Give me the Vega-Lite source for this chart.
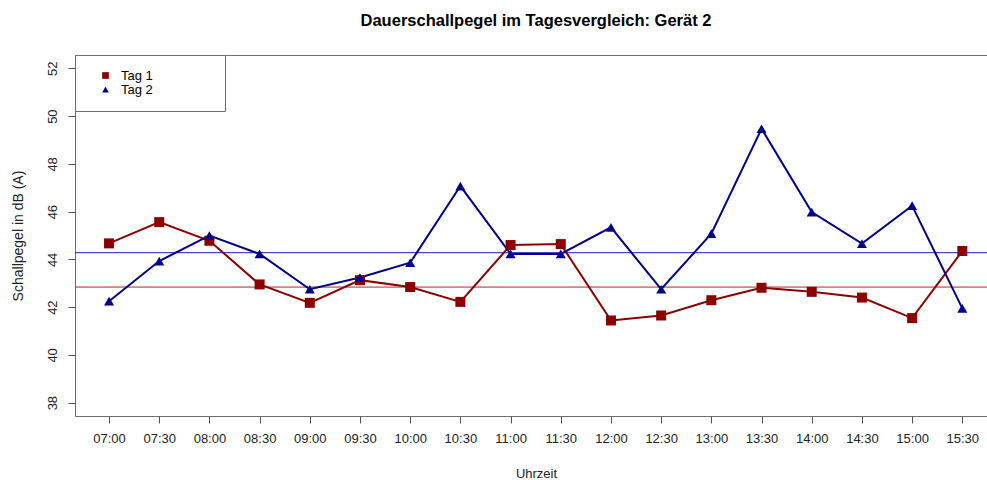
{
  "$schema": "https://vega.github.io/schema/vega-lite/v6.json",
  "width": 912,
  "height": 361,
  "autosize": {"type": "none"},
  "padding": {"left": 75, "top": 55, "right": 0, "bottom": 64},
  "background": "white",
  "title": {
    "text": "Dauerschallpegel im Tagesvergleich: Gerät 2",
    "font": "Liberation Sans",
    "fontSize": 16.5,
    "fontWeight": "bold",
    "color": "#000000",
    "anchor": "middle",
    "baseline": "alphabetic",
    "dx": 5,
    "offset": 12
  },
  "datasets": {
    "messung": [
      {"Stunde": 7.0, "Uhrzeit": "07:00", "Tag": "Tag 1", "dB": 44.67},
      {"Stunde": 7.5, "Uhrzeit": "07:30", "Tag": "Tag 1", "dB": 45.56},
      {"Stunde": 8.0, "Uhrzeit": "08:00", "Tag": "Tag 1", "dB": 44.78},
      {"Stunde": 8.5, "Uhrzeit": "08:30", "Tag": "Tag 1", "dB": 42.95},
      {"Stunde": 9.0, "Uhrzeit": "09:00", "Tag": "Tag 1", "dB": 42.18},
      {"Stunde": 9.5, "Uhrzeit": "09:30", "Tag": "Tag 1", "dB": 43.13},
      {"Stunde": 10.0, "Uhrzeit": "10:00", "Tag": "Tag 1", "dB": 42.84},
      {"Stunde": 10.5, "Uhrzeit": "10:30", "Tag": "Tag 1", "dB": 42.22},
      {"Stunde": 11.0, "Uhrzeit": "11:00", "Tag": "Tag 1", "dB": 44.60},
      {"Stunde": 11.5, "Uhrzeit": "11:30", "Tag": "Tag 1", "dB": 44.64},
      {"Stunde": 12.0, "Uhrzeit": "12:00", "Tag": "Tag 1", "dB": 41.44},
      {"Stunde": 12.5, "Uhrzeit": "12:30", "Tag": "Tag 1", "dB": 41.65},
      {"Stunde": 13.0, "Uhrzeit": "13:00", "Tag": "Tag 1", "dB": 42.29},
      {"Stunde": 13.5, "Uhrzeit": "13:30", "Tag": "Tag 1", "dB": 42.81},
      {"Stunde": 14.0, "Uhrzeit": "14:00", "Tag": "Tag 1", "dB": 42.64},
      {"Stunde": 14.5, "Uhrzeit": "14:30", "Tag": "Tag 1", "dB": 42.40},
      {"Stunde": 15.0, "Uhrzeit": "15:00", "Tag": "Tag 1", "dB": 41.54},
      {"Stunde": 15.5, "Uhrzeit": "15:30", "Tag": "Tag 1", "dB": 44.35},
      {"Stunde": 7.0, "Uhrzeit": "07:00", "Tag": "Tag 2", "dB": 42.25},
      {"Stunde": 7.5, "Uhrzeit": "07:30", "Tag": "Tag 2", "dB": 43.93},
      {"Stunde": 8.0, "Uhrzeit": "08:00", "Tag": "Tag 2", "dB": 45.00},
      {"Stunde": 8.5, "Uhrzeit": "08:30", "Tag": "Tag 2", "dB": 44.23},
      {"Stunde": 9.0, "Uhrzeit": "09:00", "Tag": "Tag 2", "dB": 42.75},
      {"Stunde": 9.5, "Uhrzeit": "09:30", "Tag": "Tag 2", "dB": 43.24},
      {"Stunde": 10.0, "Uhrzeit": "10:00", "Tag": "Tag 2", "dB": 43.86},
      {"Stunde": 10.5, "Uhrzeit": "10:30", "Tag": "Tag 2", "dB": 47.07},
      {"Stunde": 11.0, "Uhrzeit": "11:00", "Tag": "Tag 2", "dB": 44.23},
      {"Stunde": 11.5, "Uhrzeit": "11:30", "Tag": "Tag 2", "dB": 44.23},
      {"Stunde": 12.0, "Uhrzeit": "12:00", "Tag": "Tag 2", "dB": 45.34},
      {"Stunde": 12.5, "Uhrzeit": "12:30", "Tag": "Tag 2", "dB": 42.75},
      {"Stunde": 13.0, "Uhrzeit": "13:00", "Tag": "Tag 2", "dB": 45.08},
      {"Stunde": 13.5, "Uhrzeit": "13:30", "Tag": "Tag 2", "dB": 49.47},
      {"Stunde": 14.0, "Uhrzeit": "14:00", "Tag": "Tag 2", "dB": 45.98},
      {"Stunde": 14.5, "Uhrzeit": "14:30", "Tag": "Tag 2", "dB": 44.66},
      {"Stunde": 15.0, "Uhrzeit": "15:00", "Tag": "Tag 2", "dB": 46.25},
      {"Stunde": 15.5, "Uhrzeit": "15:30", "Tag": "Tag 2", "dB": 41.95}
    ],
    "referenz": [
      {"Tag": "Tag 1", "dB": 42.84},
      {"Tag": "Tag 2", "dB": 44.28}
    ]
  },
  "encoding": {
    "y": {
      "field": "dB",
      "type": "quantitative",
      "scale": {"domain": [37.44, 52.56], "nice": false, "zero": false},
      "axis": {
        "title": "Schallpegel in dB (A)",
        "values": [38, 40, 42, 44, 46, 48, 50, 52],
        "grid": false,
        "domain": false,
        "tickSize": 7,
        "tickColor": "#555555",
        "labelAngle": 270,
        "labelAlign": "center",
        "labelBaseline": "alphabetic",
        "labelPadding": 12,
        "labelFontSize": 13,
        "labelFont": "Liberation Sans",
        "labelColor": "#222222",
        "labelOverlap": false,
        "labelFlush": false,
        "titleFont": "Liberation Sans",
        "titleFontSize": 14,
        "titleFontWeight": "normal",
        "titleColor": "#222222",
        "titleAngle": 270,
        "titleAlign": "center",
        "titleBaseline": "alphabetic",
        "titleX": -53,
        "titleY": 180.5
      }
    }
  },
  "layer": [
    {
      "data": {"name": "referenz"},
      "transform": [{"filter": "datum.Tag === 'Tag 1'"}],
      "mark": {"type": "rule", "color": "#C02020", "strokeWidth": 1},
      "encoding": {}
    },
    {
      "data": {"name": "referenz"},
      "transform": [{"filter": "datum.Tag === 'Tag 2'"}],
      "mark": {"type": "rule", "color": "#1C1CB4", "strokeWidth": 1},
      "encoding": {}
    },
    {
      "data": {"name": "messung"},
      "mark": {"type": "line", "strokeWidth": 2},
      "encoding": {
        "x": {
          "field": "Stunde",
          "type": "quantitative",
          "scale": {"domain": [6.661, 15.746], "nice": false, "zero": false},
          "axis": {
            "title": "Uhrzeit",
            "values": [7, 7.5, 8, 8.5, 9, 9.5, 10, 10.5, 11, 11.5, 12, 12.5, 13, 13.5, 14, 14.5, 15, 15.5],
            "labelExpr": "(datum.value < 10 ? '0' : '') + floor(datum.value) + ':' + (datum.value % 1 ? '30' : '00')",
            "grid": false,
            "domain": false,
            "tickSize": 7,
            "tickColor": "#555555",
            "labelPadding": 9,
            "labelFontSize": 13,
            "labelFont": "Liberation Sans",
            "labelColor": "#222222",
            "labelOverlap": false,
            "labelFlush": false,
            "titleFont": "Liberation Sans",
            "titleFontSize": 13,
            "titleFontWeight": "normal",
            "titleColor": "#222222",
            "titlePadding": 22,
            "titleX": 461
          }
        },
        "color": {
          "field": "Tag", "type": "nominal",
          "scale": {"domain": ["Tag 1", "Tag 2"], "range": ["#8B0000", "#00008B"]}
        }
      }
    },
    {
      "data": {"name": "messung"},
      "mark": {"type": "point", "filled": true, "opacity": 1, "size": 100},
      "encoding": {
        "x": {"field": "Stunde", "type": "quantitative"},
        "color": {
          "field": "Tag", "type": "nominal",
          "scale": {"domain": ["Tag 1", "Tag 2"], "range": ["#8B0000", "#00008B"]},
          "legend": {
            "labelExpr": "datum.label + '\u00a0\u00a0\u00a0\u00a0\u00a0\u00a0\u00a0\u00a0\u00a0\u00a0\u00a0\u00a0\u00a0\u00a0\u00a0\u00a0\u200b'"
          }
        },
        "shape": {
          "field": "Tag", "type": "nominal",
          "scale": {"domain": ["Tag 1", "Tag 2"], "range": ["square", "triangle-up"]}
        }
      }
    }
  ],
  "config": {
    "view": {"stroke": "#6e6e6e", "strokeWidth": 1},
    "font": "Liberation Sans",
    "legend": {
      "title": null,
      "orient": "top-left",
      "offset": 0,
      "padding": 14,
      "symbolOffset": 10,
      "labelOffset": 9,
      "rowPadding": 0,
      "symbolSize": 45,
      "symbolStrokeWidth": 0,
      "symbolOpacity": 1,
      "labelFontSize": 13,
      "labelFont": "Liberation Sans",
      "labelColor": "#000000",
      "strokeColor": "#6e6e6e",
      "fillColor": "white"
    }
  }
}
